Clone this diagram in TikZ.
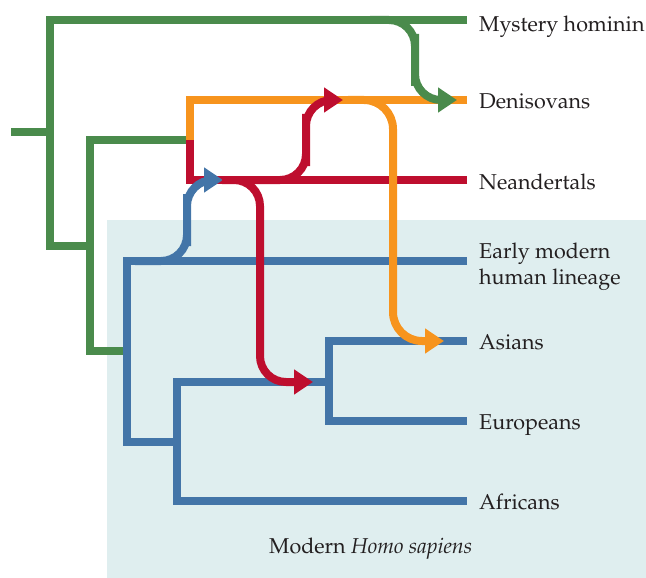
\documentclass[tikz,border=0pt]{standalone}
\usepackage[T1]{fontenc}
\usepackage{mathpazo}
\usetikzlibrary{arrows.meta}

\definecolor{treegreen}{RGB}{74,139,76}
\definecolor{treeorange}{RGB}{247,148,29}
\definecolor{treered}{RGB}{190,14,46}
\definecolor{treeblue}{RGB}{67,117,168}
\definecolor{panel}{RGB}{223,238,239}
\definecolor{ink}{RGB}{35,31,32}

\begin{document}
\begin{tikzpicture}[x=1pt,y=-1pt,
  branch/.style={line width=8pt, line join=miter, line cap=butt},
  flow/.style={line width=8pt, line cap=butt, rounded corners=26pt,
    -{Triangle[length=19pt,width=24pt]}},
  taxon/.style={anchor=base west, text=ink, inner sep=0pt, align=left,
    font=\fontsize{21.5}{26}\selectfont}]

\useasboundingbox (0,0) rectangle (646,578);

% shaded panel for modern humans
\fill[panel] (107,220) rectangle (646,578);

% tips of the lineages
\coordinate (tipMys) at (467,20);
\coordinate (tipDen) at (467,100);
\coordinate (tipNea) at (467,180);
\coordinate (tipEar) at (467,261);
\coordinate (tipAsi) at (467,341);
\coordinate (tipEur) at (467,421);
\coordinate (tipAfr) at (467,501);

% internal points of the tree
\coordinate (root)  at (11,132);
\coordinate (kRoot) at (50,132);
\coordinate (kA)    at (50,246);
\coordinate (kAr)   at (90,246);
\coordinate (kB)    at (190,140);
\coordinate (kC)    at (90,351);
\coordinate (kCr)   at (127,351);
\coordinate (kD)    at (127,442);
\coordinate (kDr)   at (177,442);
\coordinate (kE)    at (329,382);
\coordinate (kF)    at (177,501);
\coordinate (kG)    at (329,421);

% archaic branches
\draw[branch, treegreen] (root) -- (kRoot);
\draw[branch, treegreen] (tipMys) -| (kA) -- (kAr);
\draw[branch, treegreen] (kB) -| (kC) -- (kCr);
\draw[branch, treeorange] (tipDen) -| (kB);
\draw[branch, treered] (tipNea) -| (kB);

% modern human branches
\draw[branch, treeblue] (tipEar) -| (kD) -- (kDr);
\draw[branch, treeblue] (kE) -| (kF) -- (tipAfr);
\draw[branch, treeblue] (tipAsi) -| (kG) -- (tipEur);

% gene flow between lineages
\coordinate (gS) at (370,20);  \coordinate (gM) at (415,60);  \coordinate (gT) at (457,100);
\coordinate (bS) at (135,261); \coordinate (bM) at (187,220); \coordinate (bT) at (223,180);
\coordinate (rS) at (255,180); \coordinate (rM) at (306,140); \coordinate (rT) at (343,100);
\coordinate (dS) at (222,180); \coordinate (dM) at (260,300); \coordinate (dT) at (313,382);
\coordinate (oS) at (348,100); \coordinate (oM) at (393,220); \coordinate (oT) at (444,341);

\draw[flow, treegreen]  (gS) -| (gM) |- (gT);
\draw[flow, treeblue]   (bS) -| (bM) |- (bT);
\draw[flow, treered]    (rS) -| (rM) |- (rT);
\draw[flow, treered]    (dS) -| (dM) |- (dT);
\draw[flow, treeorange, rounded corners=29pt] (oS) -| (oM) |- (oT);

% labels
\node[taxon] (lMys) at (479,32)  {Mystery hominin};
\node[taxon] (lDen) at (479,109) {Denisovans};
\node[taxon] (lNea) at (479,189) {Neandertals};
\node[taxon] (lEar) at (479,284) {Early modern\\human lineage};
\node[taxon] (lAsi) at (479,349) {Asians};
\node[taxon] (lEur) at (479,429) {Europeans};
\node[taxon] (lAfr) at (479,509) {Africans};
\node[taxon] (lPanel) at (269,553) {Modern \textit{Homo sapiens}};

\end{tikzpicture}
\end{document}
